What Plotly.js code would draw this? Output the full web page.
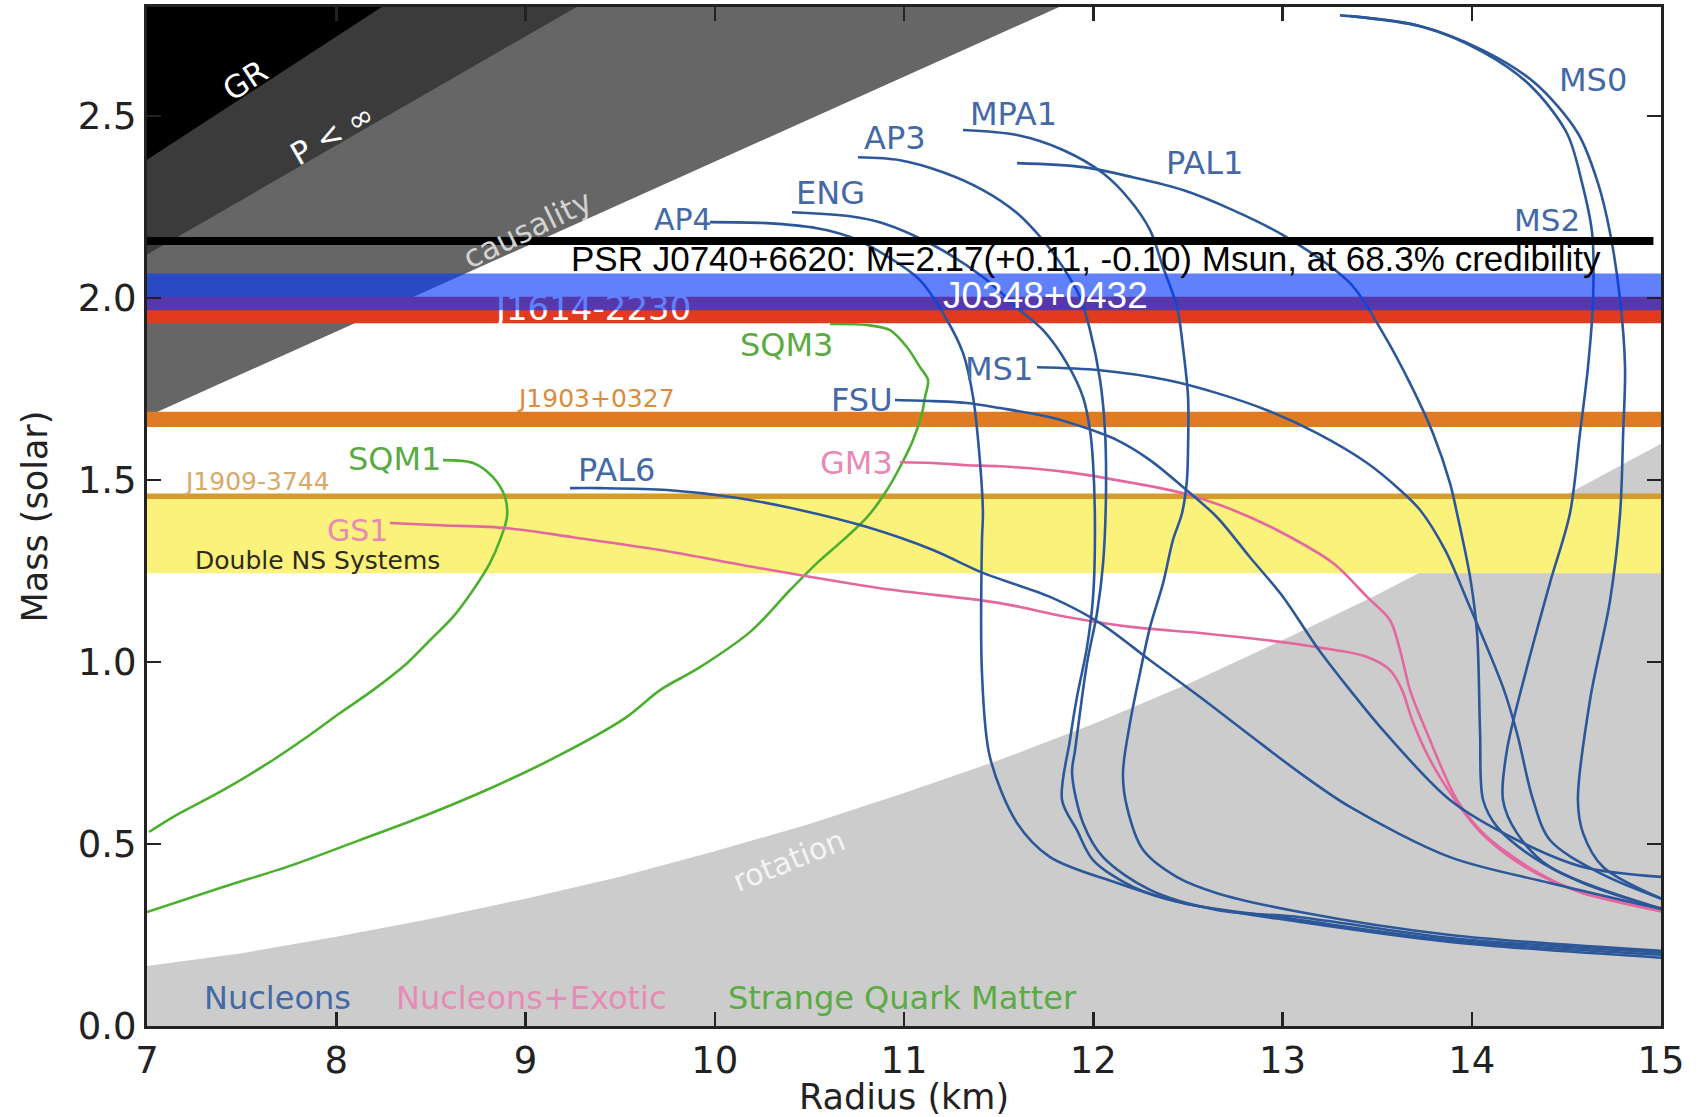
<!DOCTYPE html>
<html>
<head>
<meta charset="utf-8">
<script src="https://cdn.plot.ly/plotly-3.0.1.min.js"></script>
<style>html,body{margin:0;padding:0;background:#fff;}#chart{width:1706px;height:1117px;}</style>
</head>
<body>
<div id="chart"></div>
<script>
// ---------- axis ticks ----------
const xTicks = [7, 8, 9, 10, 11, 12, 13, 14, 15];
const yTicks = [0, 0.5, 1.0, 1.5, 2.0, 2.5];
const yTickText = ['0.0', '0.5', '1.0', '1.5', '2.0', '2.5'];

// ---------- excluded regions (boundary points) ----------
const grR = [7, 8.24];        const grM = [2.38, 2.8];
const pinfR = [7, 9.27];      const pinfM = [2.12, 2.8];
const causR = [7, 11.82];     const causM = [1.675, 2.8];
const rotR = [7, 7.5, 8, 8.5, 9, 9.5, 10, 10.5, 11, 11.5, 12, 12.5, 13, 13.5, 14, 14.5, 15];
const rotM = [0.165, 0.20, 0.245, 0.295, 0.35, 0.41, 0.48, 0.555, 0.64, 0.73, 0.83, 0.94, 1.06, 1.185, 1.32, 1.46, 1.60];

// ---------- pulsar mass bands [low, high] ----------
const bandJ1903 = [1.646, 1.688];
const bandJ1909 = [1.414, 1.463];
const bandDNS   = [1.244, 1.448];
const bandJ1614 = [1.931, 2.004];
const bandJ0348 = [1.967, 2.068];
const psrJ0740M = 2.157;
const psrJ0740R = [7, 14.96];

// ---------- mass-radius curves ----------
const MS0_R = [13.304,13.711,14.060,14.334,14.561,14.667,14.731,14.784,14.810,14.800,14.784,14.731,14.625,14.561,14.588,14.694,15.02];
const MS0_M = [2.777,2.750,2.681,2.591,2.453,2.316,2.179,1.995,1.810,1.629,1.409,1.170,0.896,0.621,0.530,0.437,0.346];

const MS2_R = [13.357,13.742,14.060,14.308,14.503,14.583,14.636,14.641,14.614,14.572,14.519,14.413,14.292,14.186,14.165,14.239,14.413,15.02];
const MS2_M = [2.775,2.745,2.676,2.585,2.453,2.316,2.179,1.995,1.810,1.629,1.409,1.217,0.986,0.758,0.621,0.530,0.437,0.319];

const MPA1_R = [11.312,11.597,11.840,12.052,12.194,12.300,12.369,12.443,12.474,12.501,12.501,12.495,12.469,12.421,12.369,12.300,12.247,12.194,12.157,12.178,12.263,12.443,12.654,13.093,13.885,15.02];
const MPA1_M = [2.462,2.448,2.407,2.343,2.269,2.187,2.085,1.975,1.865,1.728,1.591,1.500,1.409,1.335,1.217,1.096,0.970,0.832,0.695,0.602,0.484,0.409,0.365,0.313,0.250,0.206];

const AP3_R = [10.757,10.979,11.206,11.417,11.597,11.735,11.840,11.930,11.983,12.036,12.062,12.067,12.052,12.020,11.967,11.904,11.888,11.946,12.052,12.300,12.654,13.093,13.885,15.02];
const AP3_M = [2.387,2.379,2.346,2.297,2.234,2.159,2.085,2.003,1.912,1.775,1.637,1.453,1.272,1.135,0.997,0.758,0.695,0.558,0.464,0.374,0.319,0.299,0.242,0.201];

const ENG_R = [10.408,10.715,10.889,11.153,11.417,11.613,11.735,11.861,11.946,11.983,11.999,12.009,11.999,11.967,11.914,11.877,11.835,11.914,11.999,12.210,12.474,13.093,13.885,15.02];
const ENG_M = [2.236,2.225,2.206,2.146,2.058,1.967,1.912,1.821,1.728,1.637,1.547,1.363,1.179,1.041,0.904,0.786,0.621,0.538,0.456,0.382,0.338,0.291,0.236,0.195];

const AP4_R = [9.975,10.276,10.540,10.715,10.857,11.085,11.227,11.312,11.365,11.402,11.417,11.412,11.412,11.454,11.597,11.772,12.126,12.474,13.093,13.885,15.02];
const AP4_M = [2.209,2.206,2.192,2.168,2.132,2.049,1.940,1.849,1.728,1.547,1.409,1.335,0.970,0.739,0.558,0.464,0.393,0.338,0.286,0.231,0.187];

const PAL1_R = [11.597,11.946,12.210,12.474,12.738,13.003,13.357,13.531,13.674,13.795,13.885,13.922,13.991,14.028,14.044,14.060,14.134,14.324,14.588,15.02];
const PAL1_M = [2.371,2.360,2.332,2.297,2.242,2.173,2.041,1.904,1.766,1.629,1.492,1.409,1.234,1.080,0.805,0.621,0.547,0.464,0.393,0.319];

const MS1_R = [11.703,12.036,12.390,12.654,12.918,13.182,13.447,13.621,13.727,13.859,13.975,14.165,14.239,14.324,14.413,14.678,15.02];
const MS1_M = [1.810,1.802,1.775,1.739,1.692,1.629,1.547,1.473,1.418,1.308,1.170,0.931,0.805,0.621,0.511,0.420,0.346];

const FSU_R = [10.952,11.153,11.333,11.507,11.772,11.946,12.126,12.300,12.474,12.654,12.828,13.003,13.182,13.357,13.531,13.885,14.239,14.588,15.02];
const FSU_M = [1.720,1.717,1.712,1.698,1.673,1.646,1.610,1.555,1.481,1.398,1.288,1.179,1.041,0.923,0.813,0.621,0.511,0.437,0.409];

const PAL6_R = [9.235,9.394,9.748,10.096,10.450,10.805,11.153,11.417,11.772,12.036,12.300,12.564,12.828,13.093,13.357,13.885,14.413,15.02];
const PAL6_M = [1.478,1.478,1.473,1.453,1.418,1.371,1.308,1.245,1.179,1.107,1.005,0.904,0.799,0.695,0.602,0.464,0.393,0.319];

const GM3_R = [10.979,11.153,11.333,11.507,11.861,12.210,12.474,12.738,13.003,13.267,13.447,13.568,13.621,13.674,13.764,13.922,14.060,14.324,14.588,15.02];
const GM3_M = [1.549,1.547,1.541,1.538,1.522,1.492,1.464,1.418,1.354,1.272,1.179,1.115,1.033,0.923,0.805,0.621,0.530,0.429,0.365,0.324];

const GS1_R = [8.284,8.548,8.902,9.251,9.711,10.239,10.873,11.507,11.861,12.210,12.564,12.918,13.182,13.447,13.568,13.632,13.685,13.780,13.912,14.060,14.281,14.572,15.02];
const GS1_M = [1.382,1.376,1.368,1.343,1.308,1.258,1.203,1.162,1.124,1.096,1.080,1.060,1.041,1.014,0.978,0.923,0.841,0.731,0.621,0.525,0.437,0.368,0.313];

const SQM3_R = [10.609,10.805,10.926,11.016,11.085,11.127,11.111,11.095,11.048,10.979,10.910,10.805,10.678,10.540,10.398,10.192,9.922,9.711,9.526,9.172,8.818,8.464,8.110,7.756,7.402,7.0];
const SQM3_M = [1.929,1.926,1.912,1.865,1.810,1.775,1.728,1.684,1.610,1.536,1.473,1.398,1.335,1.272,1.198,1.085,0.986,0.923,0.846,0.742,0.654,0.577,0.508,0.440,0.382,0.313];

const SQM1_R = [8.564,8.723,8.828,8.892,8.902,8.865,8.812,8.723,8.617,8.495,8.374,8.194,8.020,7.845,7.666,7.402,7.137,7.011];
const SQM1_M = [1.555,1.547,1.508,1.453,1.398,1.335,1.272,1.198,1.124,1.060,0.997,0.923,0.860,0.794,0.731,0.648,0.574,0.533];

// ---------- styles ----------
const NUC = '#2c589a', EXO = '#e4689f', SQM = '#4caf2f';
const NUC_T = '#4469a6', EXO_T = '#e78bb6', SQM_T = '#5aab43';

function poly(xs, ys, color) {
  return {x: xs, y: ys, type: 'scatter', mode: 'lines', fill: 'toself', fillcolor: color,
          line: {width: 0, color: color}, hoverinfo: 'skip', showlegend: false};
}
function upperRegion(rs, ms, color) {
  return poly([rs[0], rs[1], rs[0]], [ms[0], ms[1], ms[1]], color);
}
function band(lohi, color) {
  return poly([7, 15, 15, 7], [lohi[0], lohi[0], lohi[1], lohi[1]], color);
}
function curve(rs, ms, color) {
  return {x: rs, y: ms, type: 'scatter', mode: 'lines',
          line: {color: color, width: 2.6, shape: 'spline', smoothing: 0.9},
          hoverinfo: 'skip', showlegend: false};
}

const traces = [
  upperRegion(causR, causM, '#666666'),
  upperRegion(pinfR, pinfM, '#3b3b3b'),
  upperRegion(grR, grM, '#000000'),
  poly(rotR.concat([15, 7]), rotM.concat([0, 0]), '#cccccc'),
  band(bandJ1903, '#e07b24'),
  band(bandJ1909, '#d59b2b'),
  band(bandDNS, '#fbf27c'),
  band(bandJ1614, '#e2391f'),
  {x: [9.36], y: [1.962], type: 'scatter', mode: 'text', text: ['J1614-2230'],
   textfont: {family: 'DejaVu Sans', size: 34, color: '#ffffff'}, textposition: 'middle center',
   hoverinfo: 'skip', showlegend: false},
  curve(SQM1_R, SQM1_M, SQM),
  curve(SQM3_R, SQM3_M, SQM),
  curve(GS1_R, GS1_M, EXO),
  curve(GM3_R, GM3_M, EXO),
  curve(PAL6_R, PAL6_M, NUC),
  curve(FSU_R, FSU_M, NUC),
  curve(MS1_R, MS1_M, NUC),
  curve(PAL1_R, PAL1_M, NUC),
  curve(AP4_R, AP4_M, NUC),
  curve(ENG_R, ENG_M, NUC),
  curve(AP3_R, AP3_M, NUC),
  curve(MPA1_R, MPA1_M, NUC),
  curve(MS2_R, MS2_M, NUC),
  curve(MS0_R, MS0_M, NUC),
  band(bandJ0348, 'rgba(8,56,250,0.64)'),
  {x: psrJ0740R, y: [psrJ0740M, psrJ0740M], type: 'scatter', mode: 'lines',
   line: {color: '#000000', width: 8}, hoverinfo: 'skip', showlegend: false}
];

function lab(text, x, y, color, size, family, angle) {
  return {text: text, x: x, y: y, xref: 'x', yref: 'y', showarrow: false,
          xanchor: 'center', yanchor: 'middle', textangle: angle || 0,
          font: {family: family || 'DejaVu Sans', size: size, color: color}};
}

const annotations = [
  lab('GR', 7.52, 2.60, '#ffffff', 31, null, -33),
  lab('P &lt; ∞', 7.98, 2.45, '#ffffff', 31, null, -30),
  lab('causality', 9.01, 2.19, '#d2d2d2', 31, null, -26),
  lab('rotation', 10.39, 0.455, '#f4f4f4', 30, null, -22),
  lab('MS0', 14.64, 2.60, NUC_T, 32),
  lab('MS2', 14.40, 2.215, NUC_T, 31),
  lab('MPA1', 11.58, 2.505, NUC_T, 32),
  lab('AP3', 10.95, 2.44, NUC_T, 32),
  lab('PAL1', 12.59, 2.37, NUC_T, 32),
  lab('ENG', 10.61, 2.29, NUC_T, 32),
  lab('AP4', 9.83, 2.215, NUC_T, 30),
  lab('SQM3', 10.38, 1.87, SQM_T, 32),
  lab('MS1', 11.50, 1.805, NUC_T, 32),
  lab('FSU', 10.78, 1.72, NUC_T, 32),
  lab('GM3', 10.75, 1.547, EXO_T, 32),
  lab('SQM1', 8.31, 1.557, SQM_T, 32),
  lab('PAL6', 9.48, 1.527, NUC_T, 32),
  lab('GS1', 8.11, 1.362, EXO_T, 30),
  lab('J1903+0327', 9.37, 1.725, '#e08a3c', 25),
  lab('J1909-3744', 7.58, 1.497, '#d8aa6a', 25),
  lab('Double NS Systems', 7.90, 1.279, '#2e2a1a', 25),
  lab('Nucleons', 7.69, 0.076, NUC_T, 32),
  lab('Nucleons+Exotic', 9.03, 0.076, EXO_T, 32),
  lab('Strange Quark Matter', 10.99, 0.076, SQM_T, 32),
  lab('J0348+0432', 11.75, 2.008, '#ffffff', 37, 'Liberation Sans'),
  lab('PSR J0740+6620: M=2.17(+0.11, -0.10) Msun, at 68.3% credibility', 11.96, 2.108, '#000000', 35, 'Liberation Sans')
];

const axisCommon = {
  showgrid: false, zeroline: false, showline: true, linecolor: '#222222', linewidth: 3,
  mirror: 'ticks', ticks: 'inside', ticklen: 14, tickwidth: 2.5, tickcolor: '#222222',
  tickfont: {family: 'DejaVu Sans', size: 37, color: '#222222'}
};

const layout = {
  width: 1706, height: 1117,
  margin: {l: 147, r: 45, t: 7, b: 91},
  paper_bgcolor: '#ffffff', plot_bgcolor: '#ffffff',
  showlegend: false,
  xaxis: Object.assign({}, axisCommon, {
    range: [7, 15], tickvals: xTicks, ticktext: xTicks.map(String),
    title: {text: 'Radius (km)', font: {family: 'DejaVu Sans', size: 35, color: '#222222'}, standoff: 6}
  }),
  yaxis: Object.assign({}, axisCommon, {
    range: [0, 2.8], tickvals: yTicks, ticktext: yTickText,
    title: {text: 'Mass (solar)', font: {family: 'DejaVu Sans', size: 35, color: '#222222'}, standoff: 20}
  }),
  annotations: annotations
};

Plotly.newPlot('chart', traces, layout, {staticPlot: true, displayModeBar: false});
</script>
</body>
</html>
